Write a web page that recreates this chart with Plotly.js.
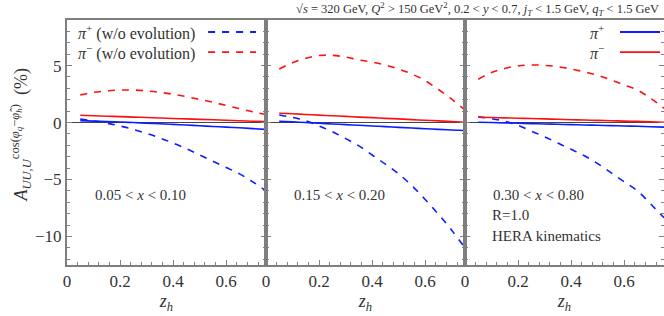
<!DOCTYPE html>
<html>
<head>
<meta charset="utf-8">
<script src="https://cdn.plot.ly/plotly-3.0.1.min.js"></script>
<style>html,body{margin:0;padding:0;background:#fff;}#chart{width:664px;height:316px;}</style>
</head>
<body>
<div id="chart"></div>
<script>
// z_h grid
const zh = [0.05,0.10,0.15,0.20,0.25,0.30,0.35,0.40,0.45,0.50,0.55,0.60,0.65,0.70,0.75];

// Panel 1: 0.05 < x < 0.10
const p1_piplus     = [0.17,0.13,0.09,0.05,0.00,-0.05,-0.10,-0.16,-0.22,-0.28,-0.34,-0.40,-0.46,-0.53,-0.60];
const p1_piminus    = [0.64,0.60,0.56,0.52,0.48,0.44,0.40,0.36,0.32,0.28,0.24,0.20,0.16,0.12,0.08];
const p1_piplus_wo  = [0.30,0.15,-0.05,-0.30,-0.60,-0.95,-1.35,-1.80,-2.30,-2.85,-3.40,-3.95,-4.50,-5.20,-6.00];
const p1_piminus_wo = [2.43,2.65,2.78,2.85,2.85,2.78,2.65,2.48,2.27,2.03,1.78,1.50,1.22,0.95,0.70];

// Panel 2: 0.15 < x < 0.20
const p2_piplus     = [0.12,0.06,0.00,-0.06,-0.12,-0.18,-0.24,-0.30,-0.36,-0.42,-0.48,-0.54,-0.60,-0.65,-0.70];
const p2_piminus    = [0.82,0.77,0.71,0.65,0.60,0.54,0.48,0.43,0.37,0.32,0.26,0.20,0.15,0.09,0.03];
const p2_piplus_wo  = [0.67,0.45,0.15,-0.30,-0.80,-1.40,-2.05,-2.85,-3.65,-4.50,-5.55,-6.75,-8.05,-9.45,-11.00];
const p2_piminus_wo = [4.70,5.25,5.65,5.88,5.90,5.75,5.50,5.30,5.05,4.70,4.25,3.68,2.90,2.05,1.10];

// Panel 3: 0.30 < x < 0.80
const p3_piplus     = [0.03,0.00,-0.03,-0.06,-0.09,-0.12,-0.15,-0.18,-0.21,-0.24,-0.27,-0.30,-0.33,-0.37,-0.40];
const p3_piminus    = [0.47,0.44,0.41,0.38,0.35,0.32,0.29,0.25,0.22,0.19,0.16,0.13,0.10,0.06,0.03];
const p3_piplus_wo  = [0.50,0.35,0.12,-0.25,-0.75,-1.25,-1.80,-2.35,-2.92,-3.60,-4.40,-5.20,-6.00,-7.15,-8.35];
const p3_piminus_wo = [3.80,4.40,4.75,4.97,5.05,5.02,4.90,4.70,4.45,4.15,3.75,3.30,2.85,2.12,1.25];

const panelLabels = ["0.05 &lt; <i>x</i> &lt; 0.10", "0.15 &lt; <i>x</i> &lt; 0.20", "0.30 &lt; <i>x</i> &lt; 0.80"];
const xTickVals = [0, 0.2, 0.4, 0.6];
const xTickText = ["0", "0.2", "0.4", "0.6"];
const yTickVals = [-10, -5, 0, 5];

const BLUE = "#0a1eff", RED = "#ff1010", FRAME = "#7f7f7f";
const FONT = "Liberation Serif";

const panels = [
  [p1_piplus, p1_piminus, p1_piplus_wo, p1_piminus_wo],
  [p2_piplus, p2_piminus, p2_piplus_wo, p2_piminus_wo],
  [p3_piplus, p3_piminus, p3_piplus_wo, p3_piminus_wo]
];

const traces = [];
panels.forEach((p, i) => {
  const xa = i === 0 ? "x" : "x" + (i + 1);
  const ya = i === 0 ? "y" : "y" + (i + 1);
  const mk = (y, color, dash) => ({
    x: zh, y: y, xaxis: xa, yaxis: ya, type: "scatter", mode: "lines",
    line: {color: color, width: 1.6, dash: dash, shape: "spline"},
    showlegend: false, hoverinfo: "skip"
  });
  traces.push(mk(p[2], BLUE, "7px,7px"));
  traces.push(mk(p[3], RED, "7px,7px"));
  traces.push(mk(p[0], BLUE, "solid"));
  traces.push(mk(p[1], RED, "solid"));
});

const layout = {
  width: 664, height: 316,
  margin: {l: 67, r: 0, t: 20, b: 51},
  paper_bgcolor: "#fff", plot_bgcolor: "#fff",
  font: {family: FONT, size: 14, color: "#333"},
  showlegend: false,
  annotations: [], shapes: []
};

for (let i = 0; i < 3; i++) {
  const s = i === 0 ? "" : String(i + 1);
  layout["xaxis" + s] = {
    domain: [i / 3, (i + 1) / 3], range: [0, 0.75], anchor: "y" + s,
    showgrid: false, zeroline: false,
    showline: true, mirror: true, linecolor: FRAME, linewidth: 2,
    ticks: "inside", ticklen: 5, tickcolor: FRAME, tickwidth: 1,
    tickvals: xTickVals, ticktext: xTickText,
    minor: {dtick: 0.04, tick0: 0, ticks: "inside", ticklen: 3, tickcolor: FRAME, showgrid: false},
    tickfont: {family: FONT, size: 17, color: "#333"},
    title: {text: "<i>z<sub>h</sub></i>", font: {family: FONT, size: 18, color: "#333"}, standoff: 4}
  };
  layout["yaxis" + s] = {
    domain: [0, 1], range: [-12.5, 9], anchor: "x" + s,
    showgrid: false,
    zeroline: true, zerolinecolor: "#444", zerolinewidth: 1,
    showline: true, mirror: "ticks", linecolor: FRAME, linewidth: 2,
    ticks: "inside", ticklen: 5, tickcolor: FRAME, tickwidth: 1,
    tickvals: yTickVals, showticklabels: i === 0,
    minor: {dtick: 1, tick0: 0, ticks: "inside", ticklen: 3, tickcolor: FRAME, showgrid: false},
    tickfont: {family: FONT, size: 17, color: "#333"}
  };
  layout.annotations.push({
    xref: "x" + s + " domain", yref: "y" + s + " domain",
    x: 0.13, y: 0.286, xanchor: "left", yanchor: "middle",
    text: panelLabels[i], showarrow: false,
    font: {family: FONT, size: 15, color: "#333"}
  });
}

// y-axis title
layout.annotations.push({
  xref: "paper", yref: "paper", x: -0.078, y: 0.53, xanchor: "center", yanchor: "middle",
  textangle: -90, showarrow: false,
  text: "<i>A</i><sub><i>UU,U</i></sub><sup>cos(<i>φ</i><sub><i>q</i></sub>−<i>φ̂</i><sub><i>h</i></sub>)</sup>  (%)",
  font: {family: FONT, size: 18, color: "#333"}
});

// top title
layout.annotations.push({
  xref: "paper", yref: "paper", x: 0.995, y: 1, yshift: 11, xanchor: "right", yanchor: "middle",
  showarrow: false,
  text: "√<i>s</i> = 320 GeV, <i>Q</i><sup>2</sup> &gt; 150 GeV<sup>2</sup>, 0.2 &lt; <i>y</i> &lt; 0.7, <i>j<sub>T</sub></i> &lt; 1.5 GeV, <i>q<sub>T</sub></i> &lt; 1.5 GeV",
  font: {family: FONT, size: 12.5, color: "#333"}
});

// panel 3 extra labels
layout.annotations.push({xref: "x3 domain", yref: "y3 domain", x: 0.126, y: 0.204, xanchor: "left", yanchor: "middle",
  text: "R=1.0", showarrow: false, font: {family: FONT, size: 15, color: "#333"}});
layout.annotations.push({xref: "x3 domain", yref: "y3 domain", x: 0.126, y: 0.118, xanchor: "left", yanchor: "middle",
  text: "HERA kinematics", showarrow: false, font: {family: FONT, size: 15, color: "#333"}});

// legends (text left of line sample)
const legendItems = [
  {ax: "", text: "<i>π</i><sup>+</sup> (w/o evolution)", color: BLUE, dash: "7px,7px", y: 0.951, tx: 0.653, l0: 0.709, l1: 0.95},
  {ax: "", text: "<i>π</i><sup>−</sup> (w/o evolution)", color: RED, dash: "7px,7px", y: 0.869, tx: 0.653, l0: 0.709, l1: 0.95},
  {ax: "3", text: "<i>π</i><sup>+</sup>", color: BLUE, dash: "solid", y: 0.951, tx: 0.709, l0: 0.779, l1: 0.98},
  {ax: "3", text: "<i>π</i><sup>−</sup>", color: RED, dash: "solid", y: 0.869, tx: 0.709, l0: 0.779, l1: 0.98}
];
legendItems.forEach(it => {
  const xr = "x" + it.ax + " domain", yr = "y" + it.ax + " domain";
  layout.annotations.push({xref: xr, yref: yr, x: it.tx, y: it.y, xanchor: "right", yanchor: "middle",
    text: it.text, showarrow: false, font: {family: FONT, size: 16, color: "#333"}});
  layout.shapes.push({type: "line", xref: xr, yref: yr, x0: it.l0, x1: it.l1, y0: it.y, y1: it.y,
    line: {color: it.color, width: 1.8, dash: it.dash}});
});

Plotly.newPlot("chart", traces, layout, {displayModeBar: false, staticPlot: true});
</script>
</body>
</html>
